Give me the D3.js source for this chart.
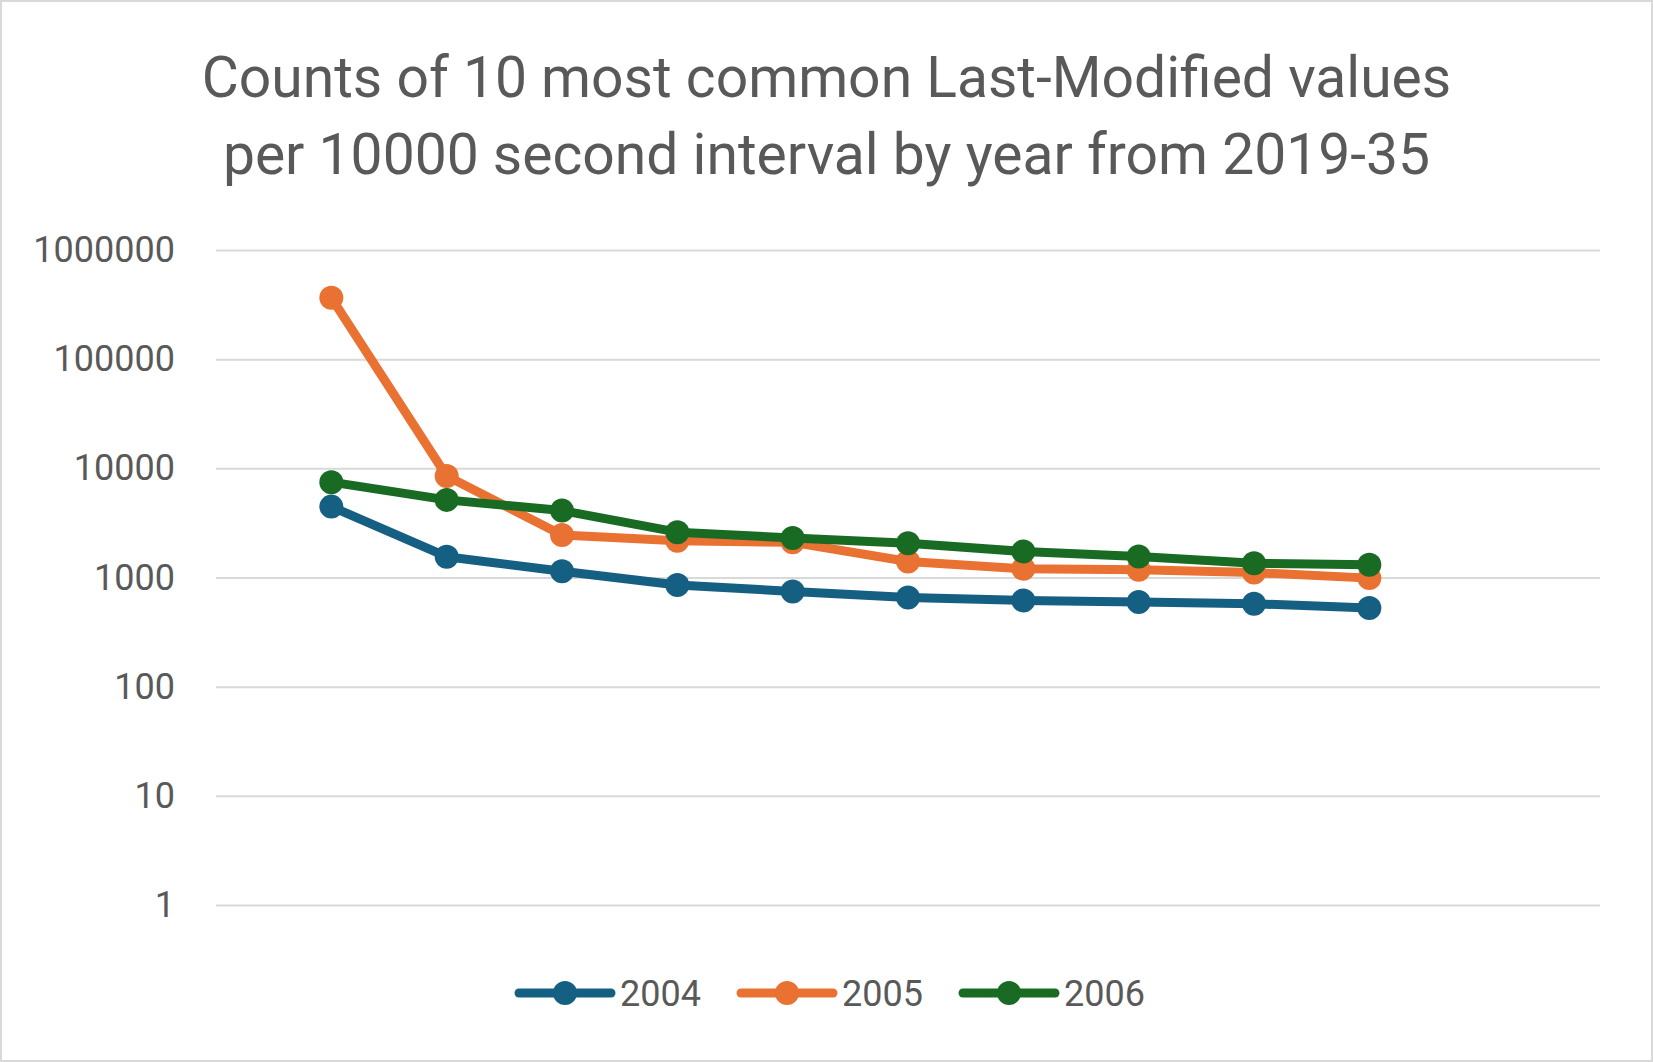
<!DOCTYPE html>
<html>
<head>
<meta charset="utf-8">
<script src="https://cdn.jsdelivr.net/npm/d3@7"></script>
<style>
  body { margin: 0; background: #fff; }
  text { font-family: Roboto, "Open Sans", sans-serif; fill: #595959; }
</style>
</head>
<body>
<svg id="chart"></svg>
<script>
// DATA
const ranks = [1, 2, 3, 4, 5, 6, 7, 8, 9, 10];
const values2004 = [4460, 1550, 1140, 855, 745, 656, 616, 596, 575, 525];
const values2005 = [365000, 8500, 2450, 2170, 2100, 1400, 1200, 1176, 1111, 987];
const values2006 = [7470, 5140, 4100, 2600, 2300, 2060, 1730, 1556, 1353, 1306];
const seriesNames = ["2004", "2005", "2006"];
const yTicks = [1, 10, 100, 1000, 10000, 100000, 1000000];
const titleLines = [
    "Counts of 10 most common Last-Modified values",
    "per 10000 second interval by year from 2019-35"
];

// LAYOUT
const width = 1653;
const height = 1062;
const margin = { top: 250, right: 53, bottom: 157, left: 216 };
const colors = ["#156082", "#E97132", "#196B24"];

const series = seriesNames.map((name, i) => ({
    name,
    color: colors[i],
    values: [values2004, values2005, values2006][i].map((v, j) => ({ rank: ranks[j], value: v }))
}));

const svg = d3.select("#chart")
    .attr("width", width)
    .attr("height", height);

// chart border
svg.append("rect")
    .attr("x", 1).attr("y", 1)
    .attr("width", width - 2).attr("height", height - 2)
    .attr("fill", "#fff")
    .attr("stroke", "#d9d9d9")
    .attr("stroke-width", 2);

// --------------- SCALES ---------------
const xScale = d3.scaleLinear()
    .domain([0, 12])
    .range([margin.left, width - margin.right]);

const yScale = d3.scaleLog()
    .domain([1, 1000000])
    .range([height - margin.bottom, margin.top]);

// --------------- TITLE ---------------
svg.append("text")
    .attr("text-anchor", "middle")
    .attr("font-size", 57)
    .selectAll("tspan")
    .data(titleLines)
    .join("tspan")
    .attr("x", width / 2)
    .attr("y", (d, i) => 97 + i * 77)
    .text(d => d);

// --------------- Y AXIS / GRID ---------------
const yAxis = svg.append("g")
    .attr("class", "y-axis")
    .attr("transform", `translate(${margin.left}, 0)`)
    .call(d3.axisLeft(yScale)
        .tickValues(yTicks)
        .tickFormat(d3.format("d"))
        .tickSize(-(width - margin.left - margin.right))
        .tickPadding(41));

yAxis.select(".domain").remove();
yAxis.selectAll(".tick line")
    .attr("stroke", "#d9d9d9")
    .attr("stroke-width", 2);
yAxis.selectAll(".tick text")
    .attr("font-size", 36)
    .attr("fill", "#595959")
    .style("font-family", "Roboto, sans-serif");

// --------------- LINES ---------------
const lineGen = d3.line()
    .x(d => xScale(d.rank))
    .y(d => yScale(d.value));

const seriesG = svg.append("g")
    .selectAll("g")
    .data(series)
    .join("g");

seriesG.append("path")
    .attr("fill", "none")
    .attr("stroke", d => d.color)
    .attr("stroke-width", 9)
    .attr("stroke-linejoin", "round")
    .attr("stroke-linecap", "round")
    .attr("d", d => lineGen(d.values));

seriesG.selectAll("circle")
    .data(d => d.values.map(v => ({ ...v, color: d.color })))
    .join("circle")
    .attr("cx", d => xScale(d.rank))
    .attr("cy", d => yScale(d.value))
    .attr("r", 12)
    .attr("fill", d => d.color);

// --------------- LEGEND ---------------
const legendY = 993;
const legendStart = 519;
const legendStep = 222;
const legendLineLen = 92;

const legend = svg.append("g")
    .selectAll("g")
    .data(series)
    .join("g")
    .attr("transform", (d, i) => `translate(${legendStart + i * legendStep}, ${legendY})`);

legend.append("line")
    .attr("x1", 0).attr("x2", legendLineLen)
    .attr("stroke", d => d.color)
    .attr("stroke-width", 9)
    .attr("stroke-linecap", "round");

legend.append("circle")
    .attr("cx", legendLineLen / 2)
    .attr("r", 12)
    .attr("fill", d => d.color);

legend.append("text")
    .attr("x", legendLineLen + 9)
    .attr("dy", "0.35em")
    .attr("font-size", 36)
    .text(d => d.name);
</script>
</body>
</html>
